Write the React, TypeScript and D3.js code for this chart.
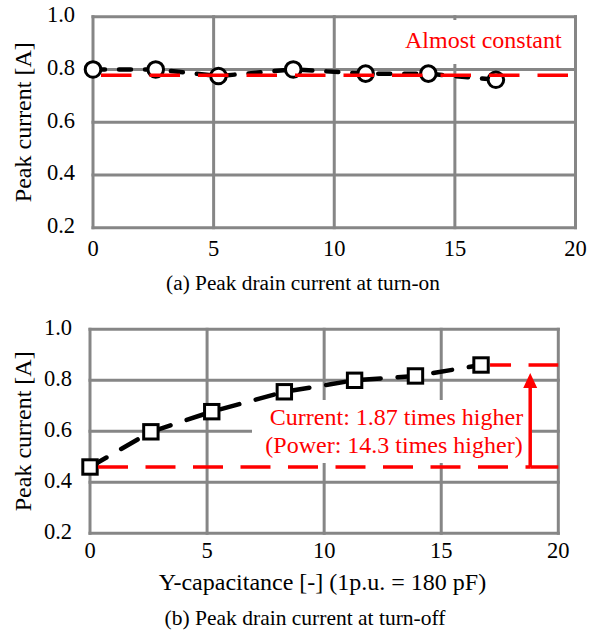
import React from "react";
import * as d3 from "d3";

const xValues = [0, 2.6, 5.2, 8.3, 11.3, 13.9, 16.7];
const turnOnPeak = [0.8, 0.8, 0.775, 0.8, 0.784, 0.784, 0.761];
const turnOffPeak = [0.46, 0.598, 0.677, 0.755, 0.8, 0.817, 0.86];
const xTicks = [0, 5, 10, 15, 20];
const yTicks = [0.2, 0.4, 0.6, 0.8, 1.0];
const constantLevel = [0.778];
const arrowX = [18.8];

const FONT = "'Liberation Serif', 'Times New Roman', serif";
const GRID = "#868686";
const RED = "#ff0000";

function Grid({ x, y }: { x: d3.ScaleLinear<number, number>; y: d3.ScaleLinear<number, number> }) {
  return (
    <g>
      {xTicks.map((t) => (
        <line key={"gx" + t} x1={x(t)} x2={x(t)} y1={y(0.2) + 1.5} y2={y(1.0) - 1.5} stroke={GRID} strokeWidth={3} />
      ))}
      {yTicks.map((t) => (
        <line key={"gy" + t} x1={x(0) - 1.5} x2={x(20) + 1.5} y1={y(t)} y2={y(t)} stroke={GRID} strokeWidth={3} />
      ))}
    </g>
  );
}

function Ticks({ x, y, xLabelY }: { x: d3.ScaleLinear<number, number>; y: d3.ScaleLinear<number, number>; xLabelY: number }) {
  return (
    <g fontFamily={FONT} fontSize={22.5} fill="#000">
      {yTicks.map((t) => (
        <text key={"ty" + t} x={x(0) - 18} y={y(t) + 5.5} textAnchor="end">{d3.format(".1f")(t)}</text>
      ))}
      {xTicks.map((t) => (
        <text key={"tx" + t} x={x(t)} y={xLabelY} textAnchor="middle">{t}</text>
      ))}
    </g>
  );
}

export default function App() {
  // Panel (a)
  const xa = d3.scaleLinear().domain([0, 20]).range([93, 575.5]);
  const ya = d3.scaleLinear().domain([0.2, 1.0]).range([227.7, 16.7]);
  // Panel (b)
  const xb = d3.scaleLinear().domain([0, 20]).range([90, 558.3]);
  const yb = d3.scaleLinear().domain([0.2, 1.0]).range([533.3, 329.3]);

  const lineA = d3.line<number>().x((_, i) => xa(xValues[i])).y((d) => ya(d));
  const lineB = d3.line<number>().x((_, i) => xb(xValues[i])).y((d) => yb(d));

  const base = turnOffPeak[0];
  const top = turnOffPeak[turnOffPeak.length - 1];
  const ax = xb(arrowX[0]);
  const tipY = yb(0.829);
  const headBase = yb(0.77);

  return (
    <svg width={597} height={635} style={{ position: "absolute", left: 0, top: 0, background: "#fff" }}>
      <rect x={0} y={0} width={597} height={635} fill="#fff" />
      {/* Panel (a) */}
      <Grid x={xa} y={ya} />
      <rect x={400} y={20} width={174} height={44} fill="#fff" />
      <path d={lineA(turnOnPeak) || ""} fill="none" stroke="#000" strokeWidth={4.5} strokeDasharray="12 14" strokeLinecap="round" />
      {turnOnPeak.map((v, i) => (
        <circle key={"ca" + i} cx={xa(xValues[i])} cy={ya(v)} r={7.8} fill="#fff" stroke="#000" strokeWidth={3} />
      ))}
      <line x1={xa(0) + 8} x2={xa(20)} y1={ya(constantLevel[0])} y2={ya(constantLevel[0])} stroke={RED} strokeWidth={3.5} strokeDasharray="30.5 18" />
      <text x={405} y={48} fontFamily={FONT} fontSize={24} fill={RED}>Almost constant</text>
      <Ticks x={xa} y={ya} xLabelY={256} />
      <text transform={`translate(31,${(ya(0.2) + ya(1.0)) / 2}) rotate(-90)`} textAnchor="middle" fontFamily={FONT} fontSize={24}>Peak current [A]</text>
      <text x={303} y={290} textAnchor="middle" fontFamily={FONT} fontSize={21.3}>(a) Peak drain current at turn-on</text>

      {/* Panel (b) */}
      <Grid x={xb} y={yb} />
      <rect x={252} y={400} width={280} height={63} fill="#fff" />
      <path d={lineB(turnOffPeak) || ""} fill="none" stroke="#000" strokeWidth={4.5} strokeDasharray="19 17" strokeLinecap="round" />
      {turnOffPeak.map((v, i) => (
        <rect key={"sb" + i} x={xb(xValues[i]) - 7.2} y={yb(v) - 7.2} width={14.4} height={14.4} fill="#fff" stroke="#000" strokeWidth={3} />
      ))}
      <line x1={xb(0) + 8} x2={ax} y1={yb(base)} y2={yb(base)} stroke={RED} strokeWidth={3.5} strokeDasharray="30 17.5" />
      <line x1={ax} x2={xb(20)} y1={yb(base)} y2={yb(base)} stroke={RED} strokeWidth={3.5} />
      <line x1={xb(xValues[6]) + 9} x2={xb(20)} y1={yb(top)} y2={yb(top)} stroke={RED} strokeWidth={3.5} strokeDasharray="30 17.5" strokeDashoffset={9} />
      <line x1={ax} x2={ax} y1={yb(base)} y2={headBase} stroke={RED} strokeWidth={3.5} />
      <path d={`M${ax},${tipY} L${ax - 7},${headBase} L${ax + 7},${headBase} Z`} fill={RED} />
      <text x={396.5} y={425} textAnchor="middle" fontFamily={FONT} fontSize={24} fill={RED}>Current: 1.87 times higher</text>
      <text x={394} y={453} textAnchor="middle" fontFamily={FONT} fontSize={24} fill={RED}>(Power: 14.3 times higher)</text>
      <Ticks x={xb} y={yb} xLabelY={558} />
      <text transform={`translate(31,${(yb(0.2) + yb(1.0)) / 2}) rotate(-90)`} textAnchor="middle" fontFamily={FONT} fontSize={24}>Peak current [A]</text>
      <text x={322.5} y={590} textAnchor="middle" fontFamily={FONT} fontSize={24}>Y-capacitance [-] (1p.u. = 180 pF)</text>
      <text x={305} y={625} textAnchor="middle" fontFamily={FONT} fontSize={21.5}>(b) Peak drain current at turn-off</text>
    </svg>
  );
}
